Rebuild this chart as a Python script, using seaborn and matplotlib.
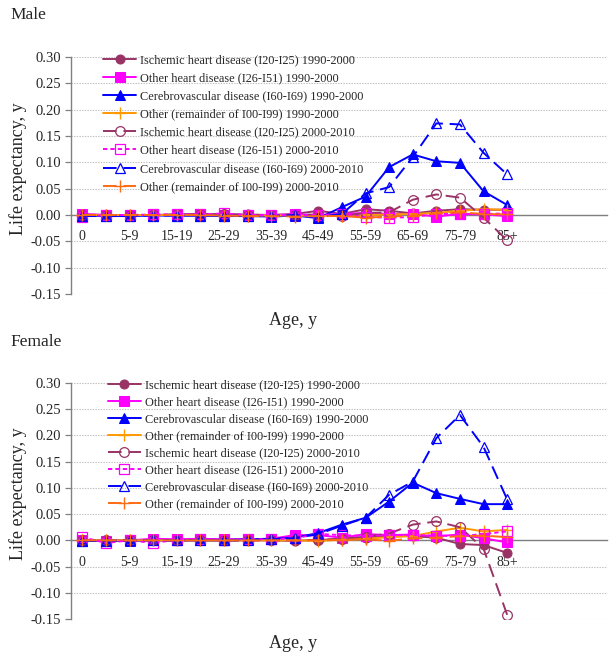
import numpy as np
import pandas as pd
import matplotlib
matplotlib.use("Agg")
import matplotlib.pyplot as plt
import seaborn as sns

# ---------------- data ----------------
ages = ['0', '1-4', '5-9', '10-14', '15-19', '20-24', '25-29', '30-34', '35-39',
        '40-44', '45-49', '50-54', '55-59', '60-64', '65-69', '70-74', '75-79',
        '80-84', '85+']

series_labels = [
    'Ischemic heart disease (I20-I25) 1990-2000',
    'Other heart disease (I26-I51) 1990-2000',
    'Cerebrovascular disease (I60-I69) 1990-2000',
    'Other (remainder of I00-I99) 1990-2000',
    'Ischemic heart disease (I20-I25) 2000-2010',
    'Other heart disease (I26-I51) 2000-2010',
    'Cerebrovascular disease (I60-I69) 2000-2010',
    'Other (remainder of I00-I99) 2000-2010',
]

male_ihd_9000 = [0.001, 0.000, 0.000, 0.000, 0.001, 0.002, 0.001, 0.001, 0.000, 0.002,
                 0.008, 0.002, 0.011, 0.008, 0.003, 0.008, 0.011, 0.010, 0.010]
male_ohd_9000 = [0.002, 0.000, 0.000, 0.000, 0.000, 0.001, 0.000, 0.000, 0.000, 0.001,
                 0.000, 0.002, 0.004, 0.002, 0.002, -0.003, 0.002, 0.001, -0.002]
male_cvd_9000 = [-0.001, -0.002, -0.002, -0.001, -0.001, -0.001, -0.002, -0.002, -0.003, -0.001,
                 -0.006, 0.015, 0.035, 0.091, 0.115, 0.102, 0.099, 0.045, 0.019]
male_oth_9000 = [0.000, 0.000, 0.000, 0.000, 0.000, 0.000, 0.000, -0.001, -0.001, -0.001,
                 -0.002, -0.001, 0.000, 0.001, 0.002, 0.004, 0.008, 0.011, 0.010]
male_ihd_0010 = [0.000, 0.000, 0.000, 0.000, 0.001, 0.001, 0.002, 0.000, 0.000, 0.000,
                 0.001, -0.002, 0.004, 0.005, 0.029, 0.039, 0.033, -0.005, -0.048]
male_ohd_0010 = [-0.003, 0.000, 0.000, 0.001, 0.001, 0.001, 0.003, 0.000, 0.000, 0.000,
                 0.000, 0.002, -0.004, -0.005, -0.004, 0.002, 0.002, 0.002, 0.003]
male_cvd_0010 = [-0.002, -0.002, -0.002, -0.001, -0.001, -0.001, -0.001, -0.002, -0.002, 0.000,
                 -0.004, 0.002, 0.041, 0.053, 0.110, 0.174, 0.172, 0.118, 0.077]
male_oth_0010 = [0.000, 0.000, 0.000, 0.000, 0.000, 0.000, -0.001, -0.002, -0.002, -0.003,
                 -0.002, -0.002, -0.005, -0.003, -0.001, 0.003, 0.005, 0.002, 0.001]

female_ihd_9000 = [0.000, 0.000, 0.000, 0.000, 0.000, 0.000, 0.000, 0.000, 0.000, -0.001,
                   0.001, 0.002, 0.005, 0.009, 0.008, 0.005, -0.007, -0.009, -0.024]
female_ohd_9000 = [0.000, -0.001, 0.000, 0.003, 0.002, 0.003, 0.002, 0.002, 0.003, 0.010,
                   0.010, 0.005, 0.012, 0.010, 0.011, 0.008, 0.011, 0.004, -0.004]
female_cvd_9000 = [-0.001, -0.001, -0.001, 0.000, 0.000, 0.001, 0.001, 0.002, 0.003, 0.005,
                   0.014, 0.030, 0.043, 0.074, 0.110, 0.090, 0.079, 0.069, 0.069]
female_oth_9000 = [0.000, 0.000, 0.000, 0.000, 0.000, 0.000, 0.000, 0.000, 0.000, 0.000,
                   -0.001, 0.001, 0.003, 0.006, 0.008, 0.017, 0.024, 0.017, 0.020]
female_ihd_0010 = [0.000, 0.000, 0.000, 0.000, 0.000, 0.001, 0.000, 0.000, 0.000, 0.000,
                   0.001, 0.003, 0.007, 0.013, 0.030, 0.036, 0.025, -0.016, -0.142]
female_ohd_0010 = [0.006, -0.005, 0.000, -0.005, 0.001, 0.002, 0.001, 0.002, 0.002, 0.004,
                   0.012, 0.010, 0.008, 0.010, 0.010, 0.009, 0.008, 0.012, 0.017]
female_cvd_0010 = [-0.001, -0.001, 0.000, 0.000, 0.000, 0.000, 0.000, 0.000, 0.002, 0.004,
                   0.012, 0.028, 0.043, 0.087, 0.112, 0.195, 0.239, 0.178, 0.078]
female_oth_0010 = [0.000, 0.000, 0.000, 0.000, 0.000, 0.000, 0.000, 0.000, 0.000, 0.000,
                   0.000, 0.001, 0.002, -0.001, 0.004, 0.005, 0.008, 0.009, 0.006]

y_ticks = [-0.15, -0.10, -0.05, 0.00, 0.05, 0.10, 0.15, 0.20, 0.25, 0.30]

# ---------------- styles ----------------
C_IHD = '#993366'
C_OHD = '#FF00FF'
C_CVD = '#0000FF'
C_OTH1 = '#FF9900'
C_OTH2 = '#FF6A13'
DASH = (0, (7, 3.5))
DOT = (0, (2.2, 1.6))
styles = [
    dict(color=C_IHD, linestyle='-', marker='o', ms=6.5, mfc=C_IHD, mec=C_IHD),
    dict(color=C_OHD, linestyle='-', marker='s', ms=6.5, mfc=C_OHD, mec=C_OHD),
    dict(color=C_CVD, linestyle='-', marker='^', ms=7, mfc=C_CVD, mec=C_CVD),
    dict(color=C_OTH1, linestyle='-', marker='+', ms=9, mfc=C_OTH1, mec=C_OTH1, mew=1.0),
    dict(color=C_IHD, linestyle=DASH, marker='o', ms=7, mfc='none', mec=C_IHD, mew=0.9),
    dict(color=C_OHD, linestyle=DOT, marker='s', ms=7, mfc='none', mec=C_OHD, mew=0.9),
    dict(color=C_CVD, linestyle=DASH, marker='^', ms=7.5, mfc='none', mec=C_CVD, mew=0.9),
    dict(color=C_OTH2, linestyle=DASH, marker='+', ms=9, mfc=C_OTH2, mec=C_OTH2, mew=1.0),
]

sns.set_style('white')
plt.rcParams['font.family'] = ['Liberation Serif', 'DejaVu Serif']

W, H = 609, 654
fig = plt.figure(figsize=(W / 100, H / 100), dpi=100)


def make_axes(top_px, bottom_px):
    left_px, right_px = 71, 607
    return fig.add_axes([left_px / W, 1 - bottom_px / H,
                         (right_px - left_px) / W, (bottom_px - top_px) / H])


panels = [
    ('Male', (57, 294), [male_ihd_9000, male_ohd_9000, male_cvd_9000, male_oth_9000,
                         male_ihd_0010, male_ohd_0010, male_cvd_0010, male_oth_0010],
     (0.060, 1.012), 0.50, -0.078, 15),
    ('Female', (383, 619), [female_ihd_9000, female_ohd_9000, female_cvd_9000, female_oth_9000,
                            female_ihd_0010, female_ohd_0010, female_cvd_0010, female_oth_0010],
     (0.069, 1.014), 0.40, -0.066, 342),
]

x = np.arange(len(ages))
for title, (tp, bp), series, legpos, lspace, xlab_y, title_y in panels:
    ax = make_axes(tp, bp)
    rows = []
    for lab, vals in zip(series_labels, series):
        for a, v in zip(x, vals):
            rows.append({'age': a, 'value': v, 'series': lab})
    df = pd.DataFrame(rows)
    for lab, st in zip(series_labels, styles):
        sub = df[df['series'] == lab]
        sns.lineplot(data=sub, x='age', y='value', ax=ax, label=lab, lw=1.4,
                     estimator=None, sort=False, **st)

    ax.set_xlim(-0.48, 22.23)
    ax.set_ylim(-0.15, 0.30)
    ax.set_yticks(y_ticks)
    ax.set_yticklabels([f'{t:.2f}' for t in y_ticks], fontsize=10.5)
    ax.yaxis.grid(True, color='#BDBDBD', linestyle=(0, (1.2, 1.2)), lw=0.8)
    ax.xaxis.grid(False)
    ax.set_axisbelow(True)

    ax.set_xticks(x)
    ax.set_xticklabels([a if i % 2 == 0 else '' for i, a in enumerate(ages)], fontsize=10.5)
    ax.set_xticks(np.arange(len(ages)) + 0.5, minor=True)
    ax.tick_params(axis='x', which='major', length=0, pad=11)
    ax.tick_params(axis='x', which='minor', direction='in', length=3, color='#808080', width=0.8)
    ax.tick_params(axis='y', which='major', direction='out', length=4, color='#808080',
                   width=0.9, left=True, pad=3)

    for s in ['top', 'right']:
        ax.spines[s].set_visible(False)
    ax.spines['left'].set_color('#808080')
    ax.spines['left'].set_linewidth(1.0)
    ax.spines['bottom'].set_position(('data', 0))
    ax.spines['bottom'].set_color('#808080')
    ax.spines['bottom'].set_linewidth(1.0)
    ax.spines['bottom'].set_zorder(1.5)

    ax.set_ylabel('Life expectancy, y', fontsize=13)
    ax.yaxis.set_label_coords(-0.083, 0.53)
    ax.set_xlabel('Age, y', fontsize=13)
    ax.xaxis.set_label_coords(0.414, xlab_y)

    leg = ax.legend(loc='upper left', bbox_to_anchor=legpos, frameon=False,
                    fontsize=8.8, handlelength=2.7, handletextpad=0.3,
                    labelspacing=lspace, borderpad=0, borderaxespad=0)
    fig.text(10 / W, 1 - title_y / H, title, fontsize=12.5, va='center', ha='left')

fig.savefig('out.png', dpi=100)
